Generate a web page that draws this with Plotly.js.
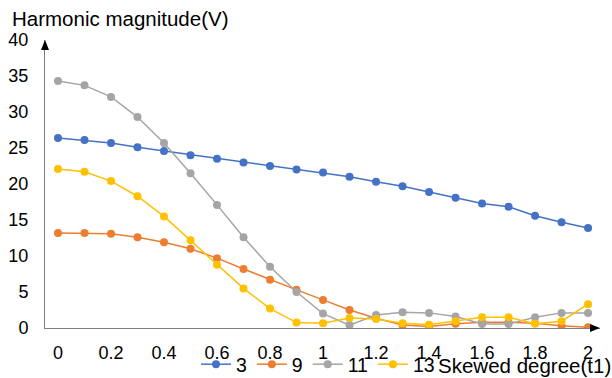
<!DOCTYPE html>
<html>
<head>
<meta charset="utf-8">
<script src="https://cdn.plot.ly/plotly-3.0.1.min.js"></script>
<style>html,body{margin:0;padding:0;background:#fff;}#chart{width:612px;height:378px;}</style>
</head>
<body>
<div id="chart"></div>
<script>
const xValues = [0,0.1,0.2,0.3,0.4,0.5,0.6,0.7,0.8,0.9,1.0,1.1,1.2,1.3,1.4,1.5,1.6,1.7,1.8,1.9,2.0];
const seriesNames = ["3","9","11","13"];
const h3  = [26.4,26.1,25.7,25.1,24.6,24.0,23.5,23.0,22.5,22.0,21.6,21.0,20.3,19.7,18.9,18.1,17.3,16.85,15.6,14.7,13.9];
const h9  = [13.2,13.2,13.1,12.6,11.9,11.0,9.7,8.2,6.7,5.3,3.9,2.5,1.35,0.4,0.2,0.6,0.8,0.8,0.65,0.3,0.1];
const h11 = [34.3,33.7,32.1,29.3,25.7,21.5,17.1,12.6,8.5,5.0,2.0,0.4,1.8,2.2,2.1,1.6,0.55,0.55,1.5,2.1,2.1];
const h13 = [22.1,21.7,20.4,18.3,15.5,12.2,8.8,5.5,2.7,0.75,0.65,1.4,1.25,0.65,0.45,0.95,1.5,1.5,0.6,0.95,3.3];
const xTicks = [0,0.2,0.4,0.6,0.8,1,1.2,1.4,1.6,1.8,2];
const yTicks = [0,5,10,15,20,25,30,35,40];
const colors = ["#4472C4","#ED7D31","#A5A5A5","#FFC000"];
const allY = [h3,h9,h11,h13];

const traces = allY.map((ys,i)=>({
  x: xValues, y: ys, name: seriesNames[i], type:'scatter', mode:'lines+markers',
  line:{color:colors[i], width:1.5},
  marker:{color:colors[i], size:8}
}));

const font = {family:'"Liberation Sans", Arial, sans-serif', color:'#000'};
const layout = {
  width:612, height:378,
  margin:{l:45, r:12, t:40, b:50, autoexpand:false},
  paper_bgcolor:'#fff', plot_bgcolor:'#fff',
  font: Object.assign({size:18}, font),
  showlegend:true,
  title:{text:'Harmonic magnitude(V)', x:12/612, xref:'container', xanchor:'left', y:1-19/378, yref:'container', yanchor:'middle', font:Object.assign({size:20.5}, font)},
  xaxis:{range:[-0.049,2.045], tickvals:xTicks, ticktext:xTicks.map(String), showgrid:false, zeroline:false,
         showline:true, linecolor:'#7f7f7f', linewidth:1, ticks:'outside', ticklen:8, tickcolor:'rgba(0,0,0,0)',
         tickfont:Object.assign({size:18}, font)},
  yaxis:{range:[0,40], tickvals:yTicks, showgrid:false, zeroline:false,
         showline:true, linecolor:'#7f7f7f', linewidth:1, ticks:'outside', ticklen:12, tickcolor:'rgba(0,0,0,0)',
         tickfont:Object.assign({size:18}, font)},
  legend:{orientation:'h', x:(196-45)/555, xanchor:'left', y:(328-345)/288, yanchor:'top',
          font:Object.assign({size:19.5}, font), bgcolor:'rgba(0,0,0,0)', itemwidth:30, traceorder:'normal'},
  annotations:[{text:'Skewed degree(t1)', xref:'paper', yref:'paper', x:(613-45)/555, y:(328-365)/288,
     xanchor:'right', yanchor:'middle', showarrow:false, font:Object.assign({size:20.5}, font)}],
  shapes:[
    {type:'path', xref:'paper', yref:'paper', path:`M ${-4/555} ${1-10/288} L 0 1 L ${4/555} ${1-10/288} Z`, fillcolor:'#000', line:{width:0}},
    {type:'path', xref:'paper', yref:'paper', path:`M ${1-10/555} ${4/288} L 1 0 L ${1-10/555} ${-4/288} Z`, fillcolor:'#000', line:{width:0}}
  ]
};
Plotly.newPlot('chart', traces, layout, {displayModeBar:false, staticPlot:true});
</script>
</body>
</html>
